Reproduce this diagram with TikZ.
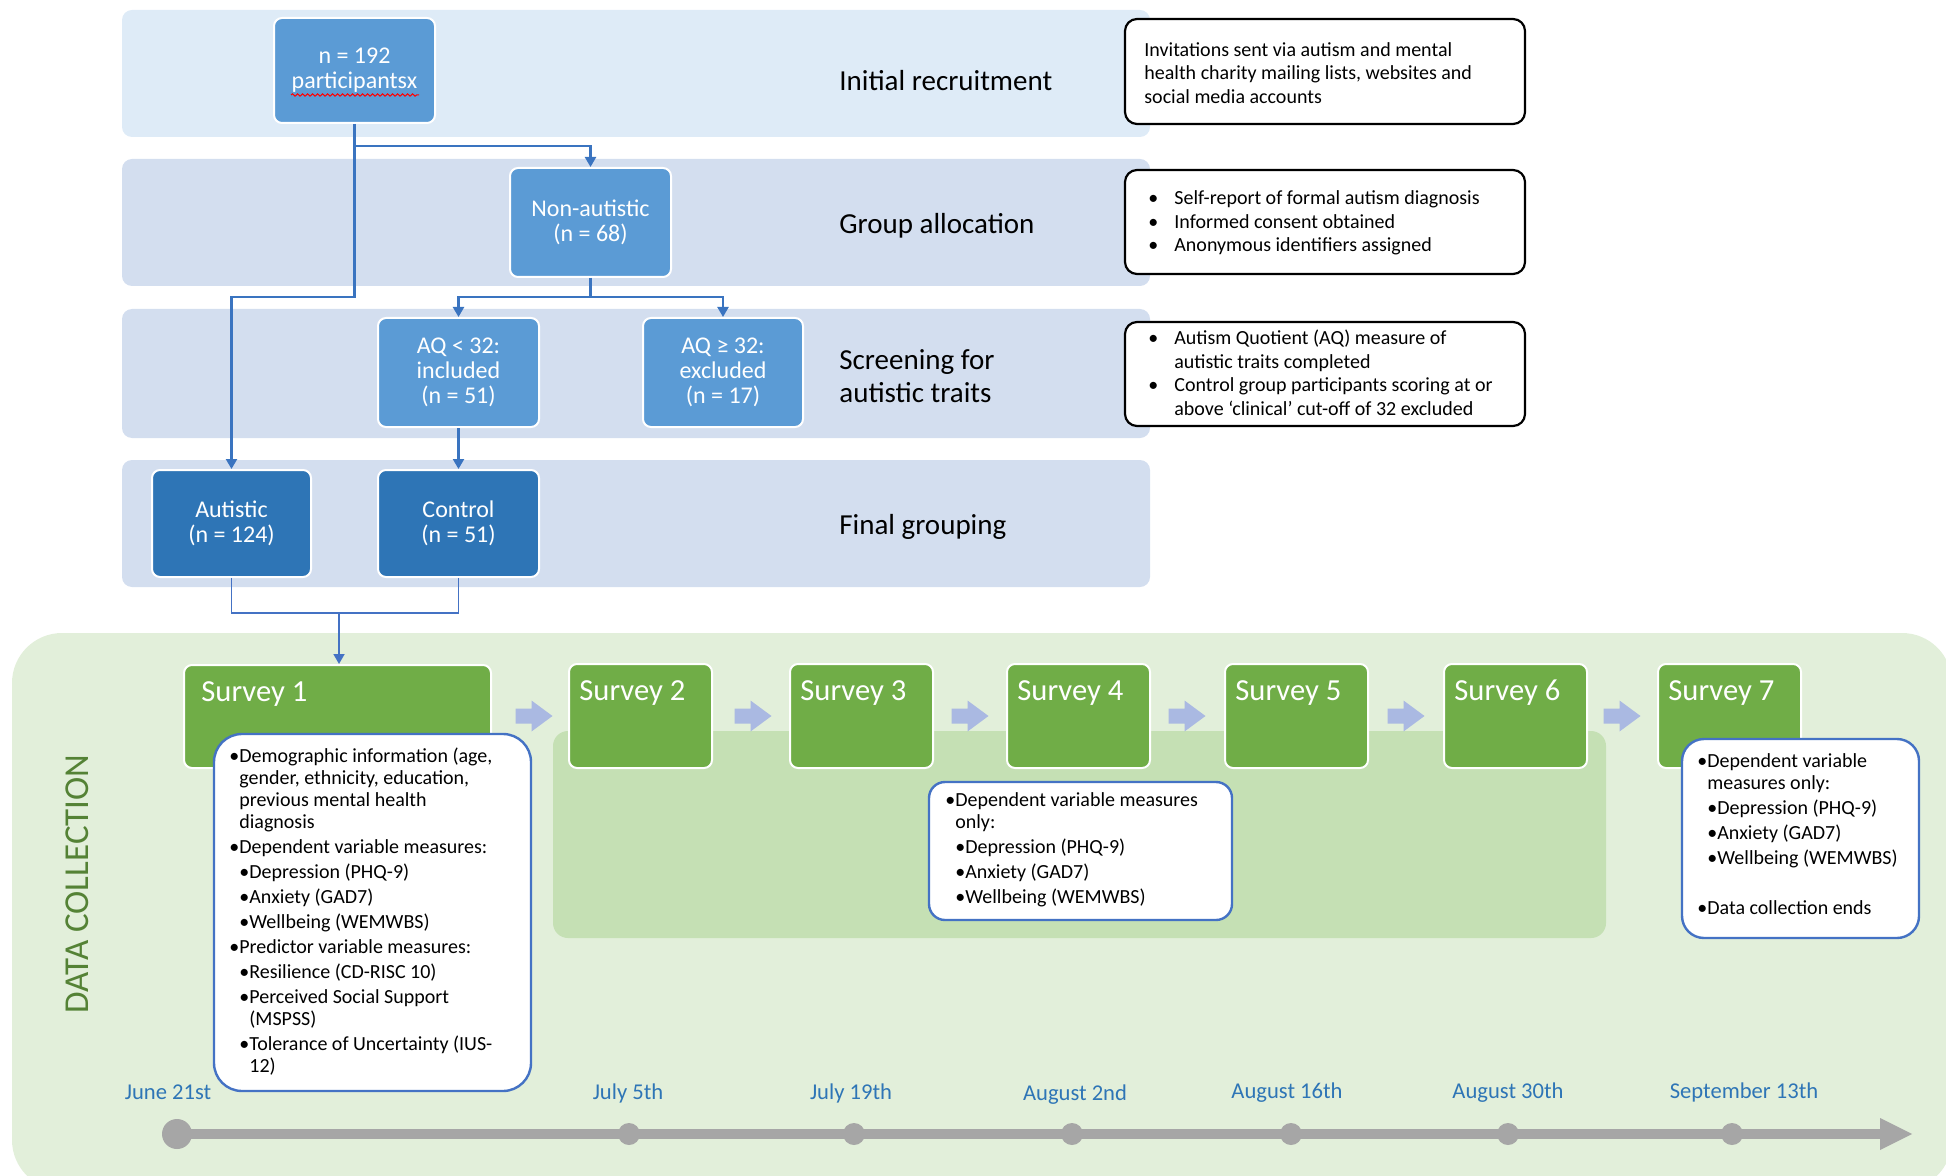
\documentclass[tikz,border=0pt]{standalone}
\usepackage{fontspec}
\setmainfont{Carlito}
\usetikzlibrary{arrows.meta,decorations.pathmorphing,calc}

\definecolor{bandA}{HTML}{DEEBF7}
\definecolor{bandB}{HTML}{D3DEEF}
\definecolor{boxL}{HTML}{5B9BD5}
\definecolor{boxD}{HTML}{2E75B6}
\definecolor{connC}{HTML}{3A74C0}
\definecolor{greenBg}{HTML}{E2EFDA}
\definecolor{greenIn}{HTML}{C5E0B4}
\definecolor{surveyC}{HTML}{70AD47}
\definecolor{blockArrow}{HTML}{AAB9E2}
\definecolor{infoBorder}{HTML}{4472C4}
\definecolor{timelineC}{HTML}{A6A6A6}
\definecolor{dateBlue}{HTML}{2E75B6}
\definecolor{dataGreen}{HTML}{548235}

\newcommand{\bi}{\makebox[13pt][l]{\textbullet}}
\newcommand{\sub}{\hspace*{5pt}}

\begin{document}
\begin{tikzpicture}[x=0.5pt,y=-0.5pt,
  wh/.style 2 args={minimum width=#1*0.5pt,minimum height=#2*0.5pt},
  fbox/.style={fill=#1, draw=white, line width=1pt, rounded corners=4pt, text=white,
    align=center, font=\fontsize{12}{12.6}\selectfont, inner sep=0pt},
  bandlabel/.style={font=\fontsize{14.5}{16.5}\selectfont, align=left, inner sep=0pt, anchor=west},
  conn/.style={draw=connC, line width=1.1pt},
  connarrow/.style={conn, -{Triangle[length=5pt,width=5.5pt]}},
  note/.style={draw=black, line width=1.1pt, fill=white, rounded corners=6pt, inner sep=0pt},
  notetext/.style={font=\fontsize{10}{11.75}\selectfont, align=left, inner sep=0pt, anchor=west},
  surveybox/.style={fill=surveyC, draw=white, line width=1pt, rounded corners=4pt, inner sep=0pt},
  slabel/.style={font=\fontsize{15.3}{18}\selectfont, text=white, inner sep=0pt, anchor=base west},
  info/.style={draw=infoBorder, line width=1.2pt, fill=white, inner sep=0pt},
  infotext/.style={font=\fontsize{10}{11}\selectfont, align=left, inner sep=0pt, anchor=north west},
  datelbl/.style={font=\fontsize{11.3}{13}\selectfont, text=dateBlue, inner sep=0pt, anchor=base},
]
\useasboundingbox (0,0) rectangle (1946,1176);

% ---------- data collection background ----------
\begin{scope}
\clip (0,0) rectangle (1946,1176);
\fill[greenBg, rounded corners=25pt] (12,633) rectangle (1952,1190);
\end{scope}
\fill[greenIn, rounded corners=7.5pt] (553,731) rectangle (1606,938);

% ---------- bands ----------
\fill[bandA, rounded corners=5pt] (122,10) rectangle (1150,137);
\fill[bandB, rounded corners=5pt] (122,159) rectangle (1150,286);
\fill[bandB, rounded corners=5pt] (122,309) rectangle (1150,438);
\fill[bandB, rounded corners=5pt] (122,460) rectangle (1150,587);

\node[bandlabel] (lbl1) at (839,81) {Initial recruitment};
\node[bandlabel] (lbl2) at (839,226) {Group allocation};
\node[bandlabel] (lbl3) at (839,376) {Screening for\\autistic traits};
\node[bandlabel] (lbl4) at (839,527) {Final grouping};

% ---------- flow boxes ----------
\node[fbox=boxL, wh={161}{105}] (p192) at (354.5,70.5) {n = 192\\participantsx};
\node[fbox=boxL, wh={161}{109}] (nonaut) at (590.5,222.5) {Non-autistic\\(n = 68)};
\node[fbox=boxL, wh={161}{109}] (aqin) at (458.5,372.5) {AQ < 32:\\included\\(n = 51)};
\node[fbox=boxL, wh={160}{109}] (aqex) at (723,372.5) {AQ ≥ 32:\\excluded\\(n = 17)};
\node[fbox=boxD, wh={159}{107}] (autistic) at (231.5,523.5) {Autistic\\(n = 124)};
\node[fbox=boxD, wh={161}{107}] (control) at (458.5,523.5) {Control\\(n = 51)};

\draw[red, line width=0.5pt, decorate, decoration={snake, amplitude=0.6pt, segment length=2.5pt}]
  (291,95) -- (419,95);

% ---------- connectors ----------
\coordinate (j1) at (354.5,146);
\coordinate (j2) at (354.5,297);
\coordinate (j3) at (590.5,297);
\coordinate (j4) at (339,613);
\draw[conn] (p192.south) -- (j1);
\draw[connarrow] (j1) -| (nonaut.north);
\draw[connarrow] (j1) -- (j2) -| (autistic.north);
\draw[conn] (nonaut.south) -- (j3);
\draw[connarrow] (j3) -| (aqin.north);
\draw[connarrow] (j3) -| (aqex.north);
\draw[connarrow] (aqin.south) -- (control.north);

% ---------- notes ----------
\node[note, wh={400}{105}] (nA) at (1325,71.5) {};
\node[note, wh={400}{104}] (nB) at (1325,222) {};
\node[note, wh={400}{104}] (nC) at (1325,374) {};
\node[notetext] (tA) at (1144,73) {Invitations sent via autism and mental\\health charity mailing lists, websites and\\social media accounts};
\node[notetext] (tB) at (1148,223) {\bi Self-report of formal autism diagnosis\\\bi Informed consent obtained\\\bi Anonymous identifiers assigned};
\node[notetext] (tC) at (1148,373) {\bi Autism Quotient (AQ) measure of\\\hspace*{13pt}autistic traits completed\\\bi Control group participants scoring at or\\\hspace*{13pt}above ‘clinical’ cut-off of 32 excluded};

% ---------- surveys ----------
\node[surveybox, wh={307}{103}] (s1) at (337.5,716.5) {};
\node[surveybox, wh={143}{104}] (s2) at (640.5,716) {};
\node[surveybox, wh={143}{104}] (s3) at (861.5,716) {};
\node[surveybox, wh={143}{104}] (s4) at (1078.5,716) {};
\node[surveybox, wh={143}{104}] (s5) at (1296.5,716) {};
\node[surveybox, wh={143}{104}] (s6) at (1515.5,716) {};
\node[surveybox, wh={143}{104}] (s7) at (1729.5,716) {};
\node[slabel] (s1t) at ($(s1.north west)+(18,37)$) {Survey 1};
\node[slabel] (s2t) at ($(s2.north west)+(11,37)$) {Survey 2};
\node[slabel] (s3t) at ($(s3.north west)+(11,37)$) {Survey 3};
\node[slabel] (s4t) at ($(s4.north west)+(11,37)$) {Survey 4};
\node[slabel] (s5t) at ($(s5.north west)+(11,37)$) {Survey 5};
\node[slabel] (s6t) at ($(s6.north west)+(11,37)$) {Survey 6};
\node[slabel] (s7t) at ($(s7.north west)+(11,37)$) {Survey 7};

\foreach \ax in {534,753,970,1187,1406,1622}
  \fill[blockArrow, shift={(\ax,716)}] (-18.5,-7.5) -- (-2.5,-7.5) -- (-2.5,-15.5) -- (18.5,0)
    -- (-2.5,15.5) -- (-2.5,7.5) -- (-18.5,7.5) -- cycle;

% bottom connector into survey 1
\draw[draw=infoBorder, line width=0.7pt] (autistic.south) |- (j4) -| (control.south);
\draw[draw=infoBorder, line width=0.9pt, -{Triangle[length=5pt,width=5.5pt]}] (j4) -- (j4 |- s1.north);

% ---------- info boxes ----------
\node[info, rounded corners=14pt, wh={317}{357}] (i1) at (372.5,912.5) {};
\node[info, rounded corners=8pt, wh={303}{138}] (i2) at (1080.5,851) {};
\node[info, rounded corners=11pt, wh={237}{199}] (i3) at (1800.5,838.5) {};

\node[infotext] (i1t) at (229,747.5) {\textbullet Demographic information (age,\\
\phantom{\textbullet}gender, ethnicity, education,\\
\phantom{\textbullet}previous mental health\\
\phantom{\textbullet}diagnosis\\[1.5pt]
\textbullet Dependent variable measures:\\[1.5pt]
\sub\textbullet Depression (PHQ-9)\\[1.5pt]
\sub\textbullet Anxiety (GAD7)\\[1.5pt]
\sub\textbullet Wellbeing (WEMWBS)\\[1.5pt]
\textbullet Predictor variable measures:\\[1.5pt]
\sub\textbullet Resilience (CD-RISC 10)\\[1.5pt]
\sub\textbullet Perceived Social Support\\
\sub\phantom{\textbullet}(MSPSS)\\[1.5pt]
\sub\textbullet Tolerance of Uncertainty (IUS-\\
\sub\phantom{\textbullet}12)};

\node[infotext] (i2t) at (945,792) {\textbullet Dependent variable measures\\
\phantom{\textbullet}only:\\[1.5pt]
\sub\textbullet Depression (PHQ-9)\\[1.5pt]
\sub\textbullet Anxiety (GAD7)\\[1.5pt]
\sub\textbullet Wellbeing (WEMWBS)};

\node[infotext] (i3t) at (1697,753) {\textbullet Dependent variable\\
\phantom{\textbullet}measures only:\\[1.5pt]
\sub\textbullet Depression (PHQ-9)\\[1.5pt]
\sub\textbullet Anxiety (GAD7)\\[1.5pt]
\sub\textbullet Wellbeing (WEMWBS)\\[14pt]
\textbullet Data collection ends};

% ---------- side label ----------
\node[rotate=90, font=\fontsize{17.5}{20}\selectfont, text=dataGreen, inner sep=0pt] (dc) at (77,884) {DATA COLLECTION};

% ---------- timeline ----------
\draw[timelineC, line width=5pt] (177,1134) -- (1885,1134);
\fill[timelineC] (1880,1118) -- (1912,1134) -- (1880,1150) -- cycle;
\fill[timelineC] (177,1134) circle[radius=15];
\foreach \tx in {629,854,1072,1291,1508,1732}
  \fill[timelineC] (\tx,1134) circle[radius=11];

\node[datelbl] (d1) at (168,1099) {June 21st};
\node[datelbl] (d2) at (628,1099) {July 5th};
\node[datelbl] (d3) at (851,1099) {July 19th};
\node[datelbl] (d4) at (1075,1100) {August 2nd};
\node[datelbl] (d5) at (1287,1098) {August 16th};
\node[datelbl] (d6) at (1508,1098) {August 30th};
\node[datelbl] (d7) at (1744,1098) {September 13th};
\end{tikzpicture}
\end{document}
